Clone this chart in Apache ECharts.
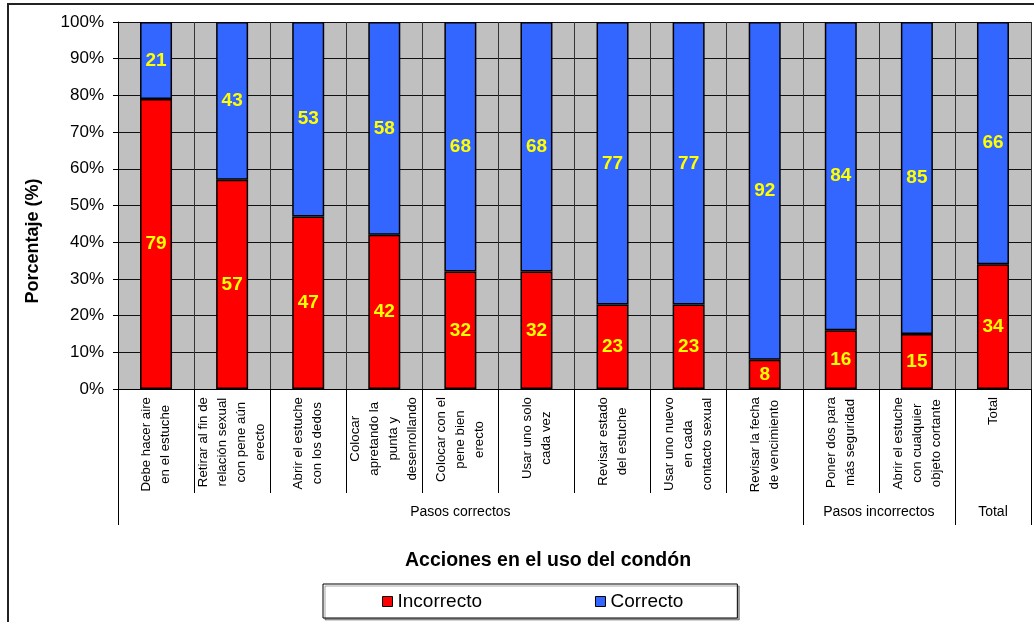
<!DOCTYPE html>
<html>
<head>
<meta charset="utf-8">
<script src="https://cdn.jsdelivr.net/npm/echarts@6/dist/echarts.min.js"></script>
<style>
html, body { margin: 0; padding: 0; background: #fff; }
#chart { width: 1034px; height: 622px; }
</style>
</head>
<body>
<div id="chart"></div>
<script>
// acciones (categorías del eje x)
const acciones = [
  'Debe hacer aire\nen el estuche',
  'Retirar al fin de\nrelación sexual\ncon pene aún\nerecto',
  'Abrir el estuche\ncon los dedos',
  'Colocar\napretando la\npunta y\ndesenrollando',
  'Colocar con el\npene bien\nerecto',
  'Usar uno solo\ncada vez',
  'Revisar estado\ndel estuche',
  'Usar uno nuevo\nen cada\ncontacto sexual',
  'Revisar la fecha\nde vencimiento',
  'Poner dos para\nmás seguridad',
  'Abrir el estuche\ncon cualquier\nobjeto cortante',
  'Total'
]
const incorrecto = [79, 57, 47, 42, 32, 32, 23, 23, 8, 16, 15, 34]
const correcto = [21, 43, 53, 58, 68, 68, 77, 77, 92, 84, 85, 66]

// grupos del segundo nivel del eje
const grupos = ['Pasos correctos', 'Pasos incorrectos', 'Total']
const gruposTamano = [9, 2, 1]

const FONT = 'Liberation Sans, Arial, sans-serif'

// medio-pasos: etiqueta en el centro de cada grupo, marca en sus bordes
const slots = new Array(acciones.length * 2 + 1).fill('')
const groupTicks = [0]
let start = 0
grupos.forEach((g, i) => {
  slots[start * 2 + gruposTamano[i]] = g
  start += gruposTamano[i]
  groupTicks.push(start * 2)
})

const barLabel = {
  show: true,
  position: 'inside',
  color: '#ffff00',
  fontWeight: 'bold',
  fontSize: 19,
  fontFamily: FONT
}

const option = {
  animation: false,
  textStyle: { fontFamily: FONT },
  title: {
    text: 'Acciones en el uso del condón',
    left: 400,
    top: 546,
    textStyle: { fontSize: 19.5, fontWeight: 'bold', color: '#000', fontFamily: FONT }
  },
  legend: {
    left: 323,
    top: 584,
    padding: [8, 54, 7, 59],
    itemGap: 113,
    itemWidth: 10,
    itemHeight: 10,
    icon: 'rect',
    borderColor: '#000',
    borderWidth: 1,
    shadowColor: 'rgba(0,0,0,0.35)',
    shadowOffsetX: 2,
    shadowOffsetY: 2,
    backgroundColor: '#fff',
    itemStyle: { borderColor: '#000', borderWidth: 1 },
    textStyle: { fontSize: 19, color: '#000', fontFamily: FONT },
    data: ['Incorrecto', 'Correcto']
  },
  graphic: [{
    type: 'rect',
    shape: { x: 8, y: 4, width: 1060, height: 660 },
    style: { fill: 'none', stroke: '#222', lineWidth: 2 },
    silent: true
  }],
  grid: {
    left: 118,
    right: 3,
    top: 22,
    bottom: 233,
    show: true,
    backgroundColor: '#c0c0c0',
    borderWidth: 0
  },
  xAxis: [
    {
      type: 'category',
      data: acciones,
      position: 'bottom',
      axisLine: { show: true, lineStyle: { color: '#000', width: 1 } },
      axisTick: { show: true, interval: 0, length: 104, lineStyle: { color: '#000' } },
      axisLabel: {
        interval: 0,
        rotate: 90,
        margin: 8,
        formatter: v => v.split('\n').map(l => `{c|${l}}`).join('\n'),
        rich: {
          c: { align: 'center', fontSize: 13.3, lineHeight: 19, color: '#000', fontFamily: FONT }
        }
      },
      splitLine: { show: true, interval: 0, lineStyle: { color: '#333', width: 1 } }
    },
    {
      type: 'category',
      data: slots,
      position: 'bottom',
      boundaryGap: false,
      axisLine: { show: false },
      axisTick: {
        show: true,
        interval: i => groupTicks.includes(i),
        length: 136,
        lineStyle: { color: '#000' }
      },
      axisLabel: {
        interval: i => slots[i] !== '',
        margin: 116,
        fontSize: 14,
        color: '#000',
        fontFamily: FONT
      },
      splitLine: { show: false }
    }
  ],
  yAxis: {
    type: 'value',
    min: 0,
    max: 100,
    interval: 10,
    name: 'Porcentaje (%)',
    nameLocation: 'middle',
    nameGap: 76,
    nameTextStyle: {
      fontSize: 18,
      fontWeight: 'bold',
      color: '#000',
      fontFamily: FONT,
      padding: [0, 71, 0, 0]
    },
    axisLine: { show: true, lineStyle: { color: '#000' } },
    axisTick: { show: true, length: 5, lineStyle: { color: '#000' } },
    axisLabel: { formatter: '{value}%', fontSize: 17, color: '#000', margin: 14, fontFamily: FONT },
    splitLine: { lineStyle: { color: '#111', width: 1 } }
  },
  series: [
    {
      name: 'Incorrecto',
      type: 'bar',
      stack: 'total',
      barWidth: 32,
      itemStyle: { color: '#ff0000', borderColor: '#000', borderWidth: 1.5 },
      label: barLabel,
      data: incorrecto
    },
    {
      name: 'Correcto',
      type: 'bar',
      stack: 'total',
      barWidth: 32,
      itemStyle: { color: '#3366ff', borderColor: '#000', borderWidth: 1.5 },
      label: barLabel,
      data: correcto
    }
  ]
}

const chart = echarts.init(document.getElementById('chart'))
chart.setOption(option)
</script>
</body>
</html>
